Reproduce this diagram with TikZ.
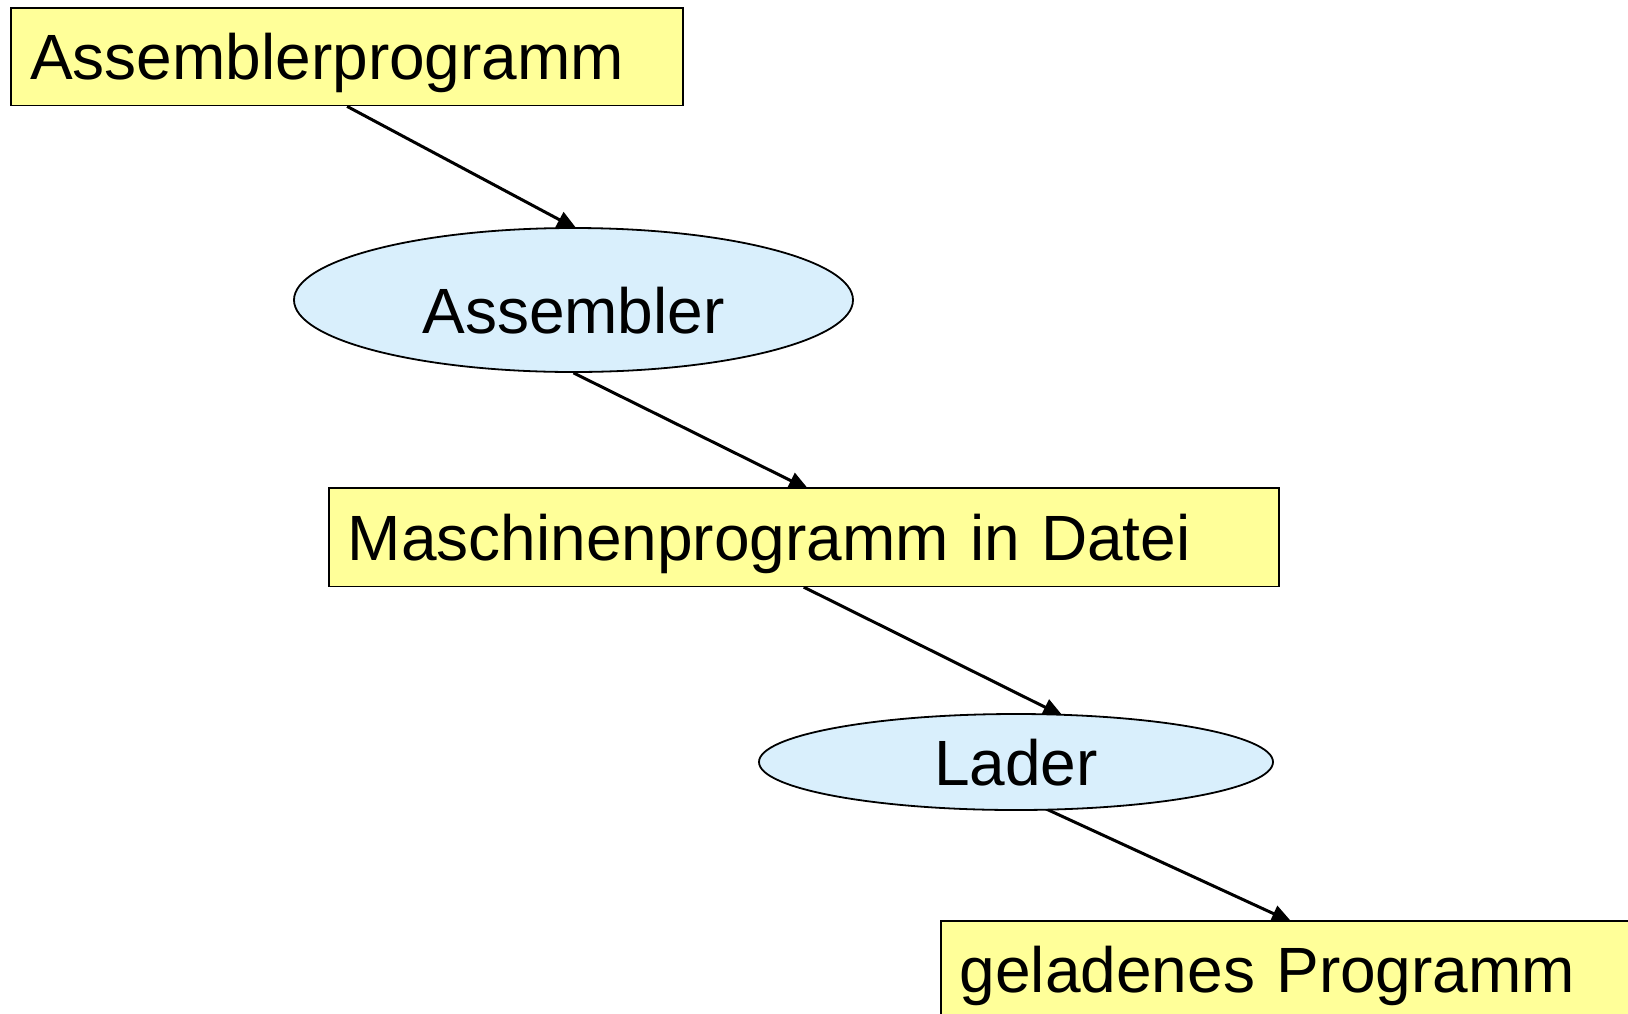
\documentclass[tikz,border=0pt]{standalone}
\usepackage{fontspec}
\setmainfont{Liberation Sans}
\usetikzlibrary{arrows.meta,calc,shapes.geometric}
\pgfdeclarelayer{background}
\pgfsetlayers{background,main}
\definecolor{boxfill}{HTML}{FFFF99}
\definecolor{procfill}{HTML}{D9EFFC}
\tikzset{
  filebox/.style={draw=black, line width=1.5pt, fill=boxfill, rectangle,
    anchor=north west, inner xsep=19pt, inner ysep=0pt, align=left,
    text height=46pt, text depth=0pt,
    font=\fontsize{64}{70}\selectfont},
  procell/.style={draw=black, line width=1.8pt, fill=procfill, ellipse,
    inner sep=0pt, font=\fontsize{64}{70}\selectfont},
  flow/.style={line width=3pt, -{Triangle[length=20pt,width=17pt]}}
}
\begin{document}
\begin{tikzpicture}[x=1pt,y=-1pt]
  \useasboundingbox (0,0) rectangle (1628,1013);
  \clip (0,0) rectangle (1628,1013);
  % data and programs
  \node[filebox, minimum width=672pt, minimum height=97.6pt, text width=634pt]
    (b1) at (10.4,7.3) {Assemblerprogramm};
  \node[procell, minimum width=559pt, minimum height=144pt,
    text height=67pt, text depth=0pt]
    (e1) at (573.5,300) {Assembler};
  \node[filebox, minimum width=950pt, minimum height=98.6pt, text width=912pt]
    (b2) at (328,487) {Maschinenprogramm in Datei};
  \node[procell, minimum width=514pt, minimum height=96pt,
    text height=46pt, text depth=0pt]
    (e2) at (1016,762) {Lader};
  \node[filebox, minimum width=694pt, minimum height=98pt, text width=656pt]
    (b3) at (940,920) {geladenes Programm};
  % connectors run underneath the shapes
  \begin{pgfonlayer}{background}
    \draw[flow] (b1.south) -- ($(e1.north)+(3.5,2)$);
    \draw[flow] (e1.south) -- ($(b2.north)+(5,2.5)$);
    \draw[flow] (b2.south) -- ($(e2.north)+(47,3)$);
    \draw[flow] ($(e2.south)+(30,-2)$) -- ($(b3.north)+(4,2)$);
  \end{pgfonlayer}
\end{tikzpicture}
\end{document}
